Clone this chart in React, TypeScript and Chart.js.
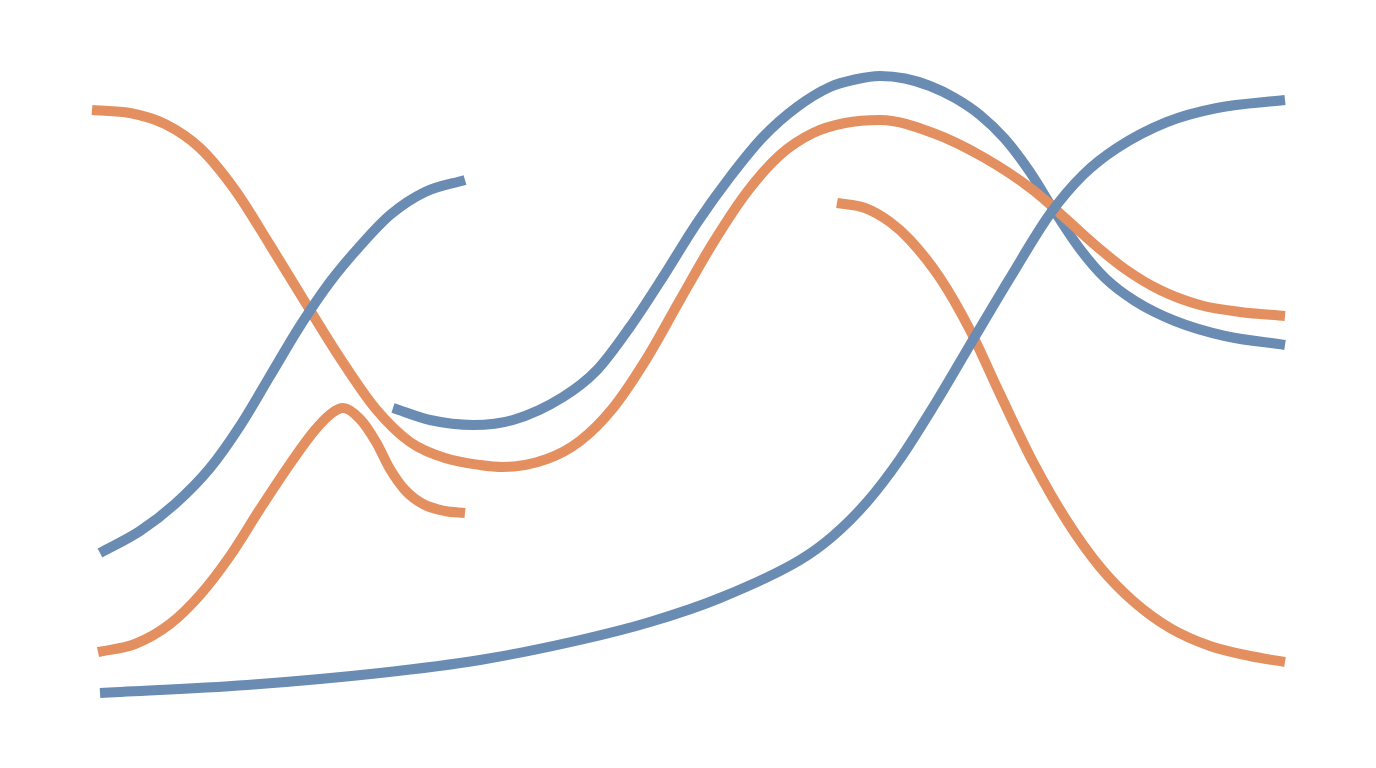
import { useEffect, useRef } from "react";
import { Chart, registerables } from "chart.js";

Chart.register(...registerables);

// Abstract units: x runs 0..137.6, y runs 0..76.8 (upwards)
const orangeLongX = [9.2, 13.0, 16.5, 20.0, 23.5, 27.0, 30.5, 34.0, 37.5, 41.0, 44.5, 48.0, 50.3, 54.7, 58.0, 61.3, 64.7, 68.0, 71.3, 74.7, 78.0, 81.3, 84.5, 88.0, 93.3, 98.3, 103.3, 106.5, 109.5, 112.5, 116.0, 120.0, 124.0, 128.5];
const orangeLongY = [65.8, 65.5, 64.4, 62.0, 57.8, 52.3, 46.6, 41.0, 36.0, 32.6, 31.0, 30.3, 30.1, 30.9, 32.7, 36.0, 41.0, 46.8, 52.5, 57.6, 61.3, 63.5, 64.5, 64.8, 63.5, 61.1, 57.8, 55.0, 52.3, 49.9, 47.8, 46.3, 45.6, 45.2];

const orangeBumpX = [9.8, 13.5, 17.0, 20.0, 23.0, 26.0, 29.0, 31.5, 33.2, 34.3, 36.0, 37.6, 39.0, 40.5, 42.3, 44.5, 46.5];
const orangeBumpY = [11.6, 12.4, 14.4, 17.3, 21.2, 25.9, 30.4, 33.8, 35.5, 36.0, 34.9, 32.6, 29.9, 27.8, 26.4, 25.7, 25.5];

const orangeFallX = [83.7, 86.5, 89.0, 91.0, 94.0, 97.0, 100.0, 103.3, 106.7, 110.0, 113.3, 117.0, 121.0, 125.0, 128.5];
const orangeFallY = [56.5, 56.0, 54.6, 52.8, 49.0, 43.8, 37.4, 30.6, 24.7, 20.1, 16.7, 14.0, 12.2, 11.2, 10.6];

const blueRiseX = [10.0, 14.0, 17.5, 21.0, 24.0, 27.0, 30.0, 33.0, 36.0, 39.0, 42.5, 46.5];
const blueRiseY = [21.5, 23.7, 26.4, 30.0, 34.2, 39.2, 44.2, 48.6, 52.2, 55.3, 57.6, 58.8];

const blueWaveX = [39.3, 43.0, 47.3, 51.3, 56.3, 59.7, 63.0, 66.3, 69.7, 73.0, 76.3, 79.7, 83.0, 85.5, 88.0, 90.5, 93.0, 95.5, 98.0, 100.5, 103.0, 105.5, 108.0, 110.5, 113.5, 117.5, 122.5, 128.5];
const blueWaveY = [36.0, 34.8, 34.3, 34.8, 37.1, 39.8, 44.1, 49.1, 54.5, 59.1, 63.1, 66.1, 68.1, 68.85, 69.2, 68.95, 68.2, 67.0, 65.3, 62.9, 59.6, 55.6, 51.9, 49.0, 46.7, 44.7, 43.2, 42.3];

const blueLowX = [10.0, 24.7, 38.0, 48.0, 58.0, 65.0, 72.0, 80.0, 83.3, 86.7, 90.0, 93.5, 97.0, 101.0, 105.0, 108.3, 111.7, 116.7, 121.7, 128.5];
const blueLowY = [7.5, 8.3, 9.5, 10.8, 12.8, 14.6, 17.0, 20.8, 23.2, 26.6, 30.9, 36.4, 42.3, 49.0, 55.4, 59.3, 62.0, 64.6, 66.0, 66.8];

const BLUE = "#6a8bb2";
const ORANGE = "#e48f5f";

const toPoints = (xs: number[], ys: number[]) => xs.map((x, i) => ({ x, y: ys[i] }));

export default function App() {
    const canvasRef = useRef<HTMLCanvasElement>(null);

    useEffect(() => {
        document.body.style.margin = "0";
        if (!canvasRef.current) return;

        const line = (xs: number[], ys: number[], color: string) => ({
            data: toPoints(xs, ys),
            showLine: true,
            borderColor: color,
            backgroundColor: color,
            borderWidth: 10,
            borderCapStyle: "butt" as const,
            pointRadius: 0,
            cubicInterpolationMode: "monotone" as const,
            fill: false,
        });

        const chart = new Chart(canvasRef.current, {
            type: "scatter",
            data: {
                datasets: [
                    line(blueLowX, blueLowY, BLUE),
                    line(blueRiseX, blueRiseY, BLUE),
                    line(orangeBumpX, orangeBumpY, ORANGE),
                    line(orangeLongX, orangeLongY, ORANGE),
                    line(blueWaveX, blueWaveY, BLUE),
                    line(orangeFallX, orangeFallY, ORANGE),
                ],
            },
            options: {
                animation: false,
                responsive: true,
                maintainAspectRatio: false,
                layout: { padding: 0 },
                plugins: {
                    legend: { display: false },
                    tooltip: { enabled: false },
                },
                scales: {
                    x: { type: "linear", min: 0, max: 137.6, display: false },
                    y: { type: "linear", min: 0, max: 76.8, display: false },
                },
            },
        });

        return () => {
            chart.destroy();
        };
    }, []);

    return (
        <div style={{ position: "relative", width: "1376px", height: "768px", background: "#ffffff" }}>
            <canvas ref={canvasRef} />
        </div>
    );
}
